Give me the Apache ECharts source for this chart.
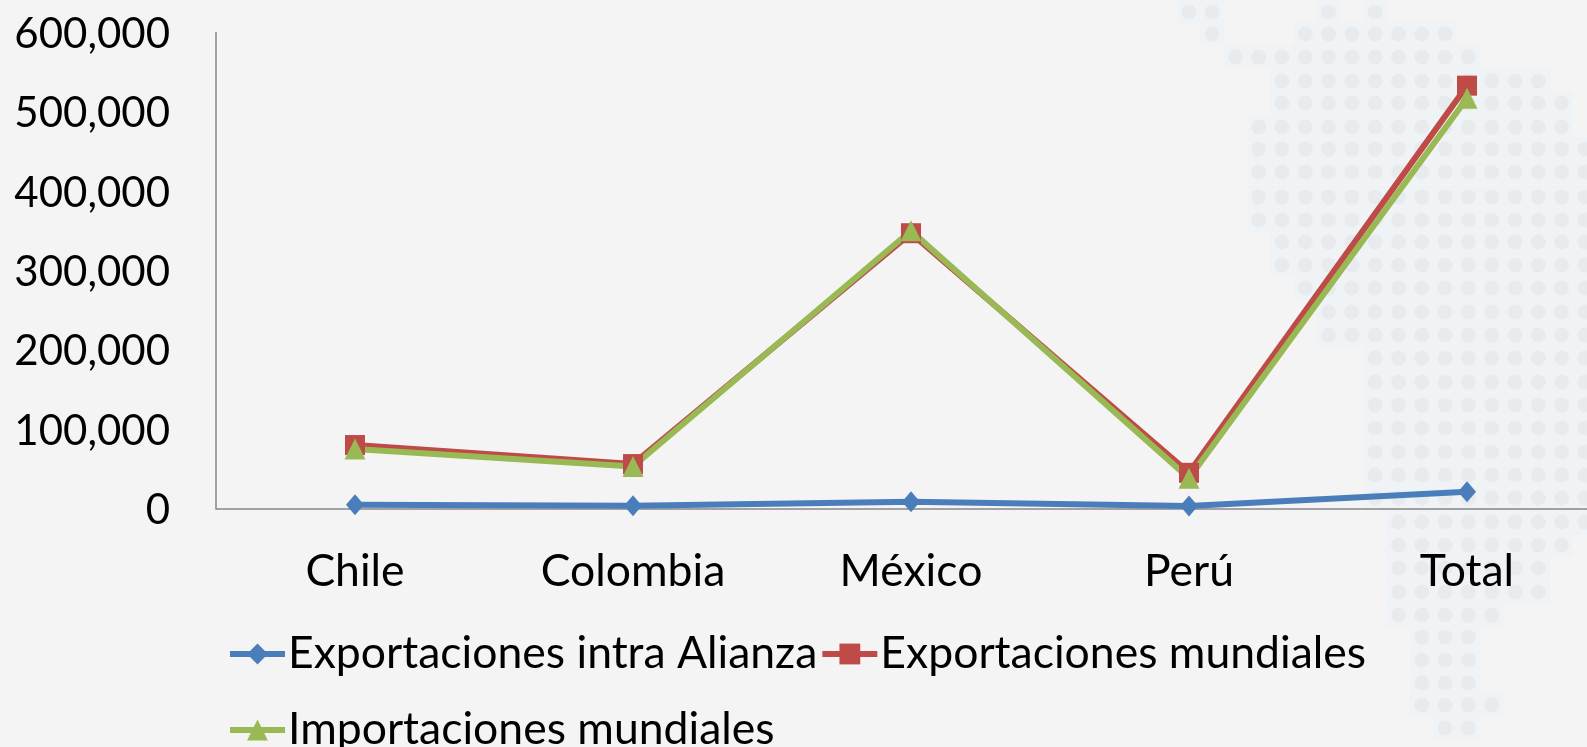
<!DOCTYPE html>
<html><head><meta charset="utf-8">
<style>html,body{margin:0;padding:0;background:#f4f4f4}#c{width:1587px;height:747px}</style>
<script src="https://cdn.jsdelivr.net/npm/echarts@6/dist/echarts.min.js"></script>
</head><body><div id="c"></div>
<script>
const categories = ['Chile','Colombia','México','Perú','Total'];
const intra = [4700,3500,8500,3000,21000];
const exportaciones = [80000,56000,347000,45000,533000];
const importaciones = [75000,53000,350000,38000,517000];
// decorative watermark rows: [y, first column, last column]
const dotRows = [[12,-4,-3],[12,2,2],[12,4,4],[34,-3,-3],[34,1,7],[57,-2,8],[81,0,11],[103,0,12],[127,-1,12],[149,-1,13],[172,-1,13],[197,-1,13],[220,-1,13],[242,0,13],[265,0,13],[288,1,13],[312,2,13],[335,2,13],[358,4,13],[382,4,13],[405,4,13],[428,4,13],[452,4,13],[475,4,13],[498,4,13],[522,5,13],[545,5,12],[568,5,11],[592,5,11],[615,5,9],[637,6,8],[660,6,8],[683,6,8],[705,6,9],[728,7,8]];
const halos = [], dots = [];
dotRows.forEach(r => { for (let k = r[1]; k <= r[2]; k++) {
  const x = 1282 + 23.3 * k;
  halos.push({type:'rect',silent:true,shape:{x:x-12,y:r[0]-12,width:24,height:24},style:{fill:'#f0f3f6'}});
  dots.push({type:'circle',silent:true,shape:{cx:x,cy:r[0],r:7.5},style:{fill:'#e8ebee'}});
}});
const font = 'Lato';
const chart = echarts.init(document.getElementById('c'));
chart.setOption({
  backgroundColor:'#f4f4f4',
  animation:false,
  graphic:halos.concat(dots),
  grid:{left:216,top:32.5,width:1390,height:476,outerBoundsMode:'none'},
  xAxis:{type:'category',data:categories,boundaryGap:true,
    axisLine:{lineStyle:{color:'#868686',width:1.5}},axisTick:{show:false},
    axisLabel:{color:'#000',fontFamily:font,fontSize:44.5,margin:41}},
  yAxis:{type:'value',min:0,max:600000,interval:100000,
    axisLine:{show:true,lineStyle:{color:'#868686',width:1.5}},axisTick:{show:false},splitLine:{show:false},
    axisLabel:{color:'#000',fontFamily:font,fontSize:42,margin:46,
      formatter:v=>'{a|'+v.toLocaleString('en-US')+'}',
      rich:{a:{color:'#000',fontFamily:font,fontSize:42,padding:[4,0,0,0]}}}},
  legend:{left:227,top:617,width:1250,itemWidth:55,itemHeight:26,itemGap:2,padding:0,
    lineStyle:{width:6},
    textStyle:{color:'#000',fontFamily:font,fontSize:44.5,padding:[0,0,0,-2],lineHeight:74,height:74},
    data:['Exportaciones intra Alianza','Exportaciones mundiales','Importaciones mundiales']},
  series:[
    {name:'Exportaciones intra Alianza',type:'line',data:intra,symbol:'diamond',symbolSize:[18,21],
     lineStyle:{color:'#4a7ebb',width:6},itemStyle:{color:'#4a7ebb'}},
    {name:'Exportaciones mundiales',type:'line',data:exportaciones,symbol:'rect',symbolSize:20,
     lineStyle:{color:'#be4b48',width:6},itemStyle:{color:'#be4b48'}},
    {name:'Importaciones mundiales',type:'line',data:importaciones,symbol:'triangle',symbolSize:[21,21],
     lineStyle:{color:'#98b954',width:6},itemStyle:{color:'#98b954'}}
  ]
});
</script></body></html>
